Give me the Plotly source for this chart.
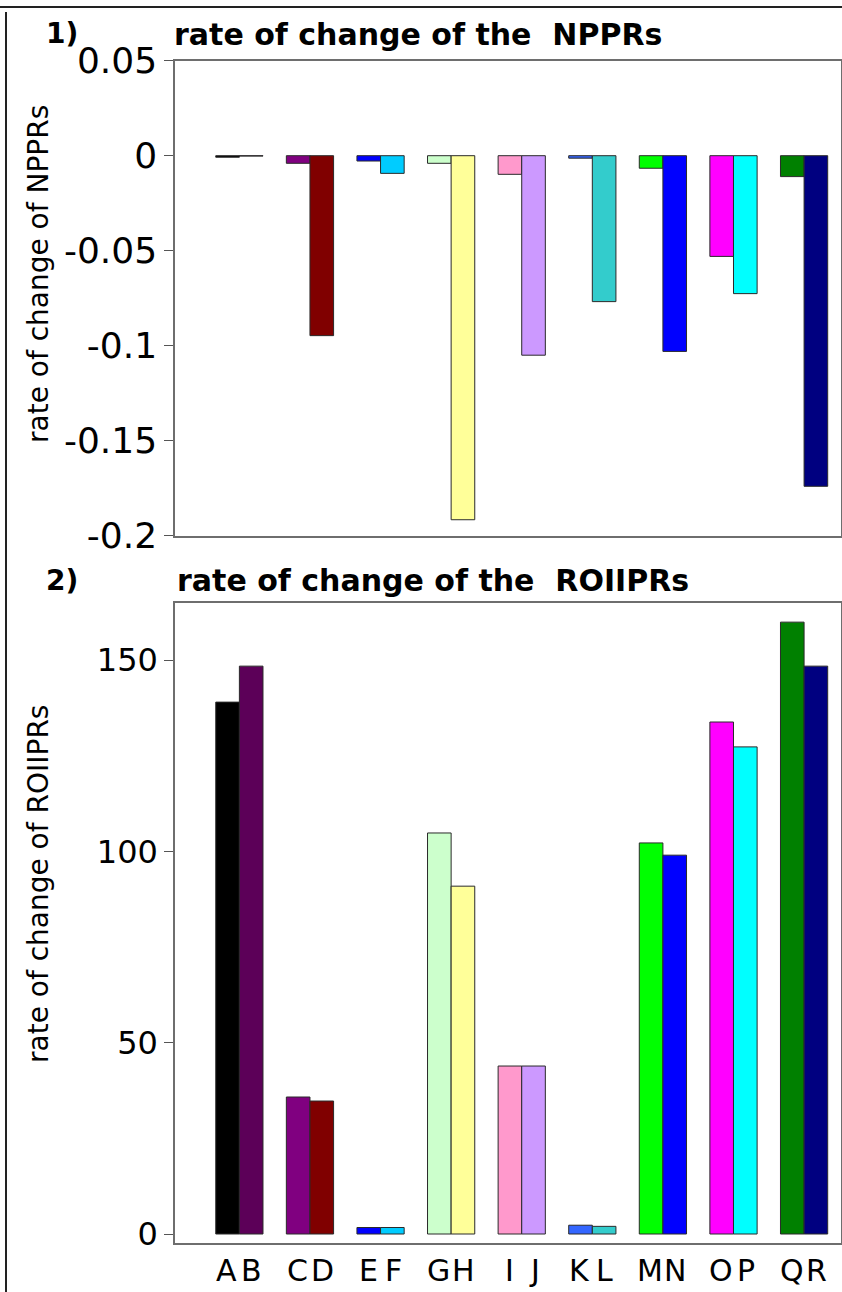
import plotly.graph_objects as go

# ---------------- data ----------------
pairs = ["AB", "CD", "EF", "GH", "IJ", "KL", "MN", "OP", "QR"]
labels_first = ["A", "C", "E", "G", "I", "K", "M", "O", "Q"]
labels_second = ["B", "D", "F", "H", "J", "L", "N", "P", "R"]

nppr_first = [-0.0008, -0.0040, -0.0028, -0.0040, -0.0098, -0.0013, -0.0066, -0.053, -0.011]
nppr_second = [-0.0002, -0.0947, -0.0093, -0.1916, -0.105, -0.0768, -0.103, -0.0726, -0.174]

roii_first = [139.0, 35.8, 1.7, 104.8, 43.9, 2.3, 102.2, 133.8, 159.9]
roii_second = [148.4, 34.75, 1.7, 90.9, 43.9, 2.0, 99.0, 127.3, 148.4]

colors_first = ["#000000", "#800080", "#0000ff", "#ccffcc", "#ff99cc",
                "#3366ff", "#00ff00", "#ff00ff", "#008000"]
colors_second = ["#5c0058", "#800000", "#00ccff", "#ffff99", "#cc99ff",
                 "#33cccc", "#0000ff", "#00ffff", "#000080"]

top_ticks = [0.05, 0, -0.05, -0.1, -0.15, -0.2]
top_ticktext = ["0.05", "0", "-0.05", "-0.1", "-0.15", "-0.2"]
bottom_ticks = [0, 50, 100, 150]
bottom_ticktext = ["0", "50", "100", "150"]

# ---------------- figure ----------------
W, H = 842, 1292
FONT = "DejaVu Sans"
OUTLINE = dict(color="#2a2a2a", width=1)

fig = go.Figure()
fig.add_trace(go.Bar(x=pairs, y=nppr_first, marker=dict(color=colors_first, line=OUTLINE),
                     xaxis="x", yaxis="y", showlegend=False))
fig.add_trace(go.Bar(x=pairs, y=nppr_second, marker=dict(color=colors_second, line=OUTLINE),
                     xaxis="x", yaxis="y", showlegend=False))
fig.add_trace(go.Bar(x=pairs, y=roii_first, marker=dict(color=colors_first, line=OUTLINE),
                     xaxis="x2", yaxis="y2", showlegend=False))
fig.add_trace(go.Bar(x=pairs, y=roii_second, marker=dict(color=colors_second, line=OUTLINE),
                     xaxis="x2", yaxis="y2", showlegend=False))

xdom = [175 / W, 841 / W]
xrange_ = [-0.912, 8.523]
axline = dict(showline=True, linecolor="#6e6e6e", linewidth=1.5, mirror=True,
              showgrid=False, zeroline=False, automargin=False)

fig.update_layout(
    width=W, height=H, autosize=False,
    margin=dict(l=0, r=0, t=0, b=0, pad=0, autoexpand=False),
    paper_bgcolor="white", plot_bgcolor="white",
    barmode="group", bargap=0.331, bargroupgap=0,
    font=dict(family=FONT, color="black"),
    xaxis=dict(domain=xdom, range=xrange_, type="category", anchor="y",
               showticklabels=False, ticks="", **axline),
    yaxis=dict(domain=[1 - 535.7 / H, 1 - 60.7 / H], range=[-0.2, 0.05], anchor="x",
               tickvals=top_ticks, ticktext=top_ticktext, ticks="outside", ticklen=9,
               tickcolor="#555555", tickfont=dict(size=36, family=FONT),
               ticklabelstandoff=0, **axline),
    xaxis2=dict(domain=xdom, range=xrange_, type="category", anchor="y2",
                showticklabels=False, ticks="", **axline),
    yaxis2=dict(domain=[1 - 1243 / H, 1 - 603 / H], range=[-2.35, 164.9], anchor="x2",
                tickvals=bottom_ticks, ticktext=bottom_ticktext, ticks="outside", ticklen=9,
                tickcolor="#555555", tickfont=dict(size=32, family=FONT),
                ticklabelstandoff=0, **axline),
)

ann = []
# panel titles
ann.append(dict(text="<b>1)</b>", x=62 / W, y=1 - 34 / H, xref="paper", yref="paper",
                xanchor="center", yanchor="middle", showarrow=False,
                font=dict(size=28, family=FONT)))
ann.append(dict(text="<b>rate of change of the\u00a0 NPPRs</b>", x=172 / W, y=1 - 35 / H,
                xref="paper", yref="paper", xanchor="left", yanchor="middle",
                showarrow=False, font=dict(size=30, family=FONT)))
ann.append(dict(text="<b>2)</b>", x=62 / W, y=1 - 580 / H, xref="paper", yref="paper",
                xanchor="center", yanchor="middle", showarrow=False,
                font=dict(size=28, family=FONT)))
ann.append(dict(text="<b>rate of change of the\u00a0 ROIIPRs</b>", x=175 / W, y=1 - 580 / H,
                xref="paper", yref="paper", xanchor="left", yanchor="middle",
                showarrow=False, font=dict(size=30, family=FONT)))
# y-axis titles
ann.append(dict(text="rate of change of NPPRs", x=38 / W, y=1 - 274 / H, xref="paper",
                yref="paper", xanchor="center", yanchor="middle", textangle=-90,
                showarrow=False, font=dict(size=28, family=FONT)))
ann.append(dict(text="rate of change of ROIIPRs", x=38 / W, y=1 - 884 / H, xref="paper",
                yref="paper", xanchor="center", yanchor="middle", textangle=-90,
                showarrow=False, font=dict(size=28, family=FONT)))
# category letters under each bar
for p, a, b in zip(pairs, labels_first, labels_second):
    for txt, shift in ((a, -12.5), (b, 12.5)):
        ann.append(dict(text=txt, x=p, xref="x2", y=1 - 1270 / H, yref="paper",
                        xshift=shift, xanchor="center", yanchor="middle",
                        showarrow=False, font=dict(size=30, family=FONT)))
fig.update_layout(annotations=ann)

# outer frame lines
fig.add_shape(type="line", xref="paper", yref="paper", x0=0, x1=1,
              y0=1 - 7 / H, y1=1 - 7 / H, line=dict(color="#222222", width=2))
fig.add_shape(type="line", xref="paper", yref="paper", x0=6 / W, x1=6 / W,
              y0=0, y1=1 - 12 / H, line=dict(color="#222222", width=2))

fig.write_html(
    "out.html",
    config={"displayModeBar": False, "responsive": False},
    post_script="document.documentElement.style.margin='0';"
                "document.body.style.margin='0';document.body.style.padding='0';"
                "document.body.style.overflow='hidden';",
)
